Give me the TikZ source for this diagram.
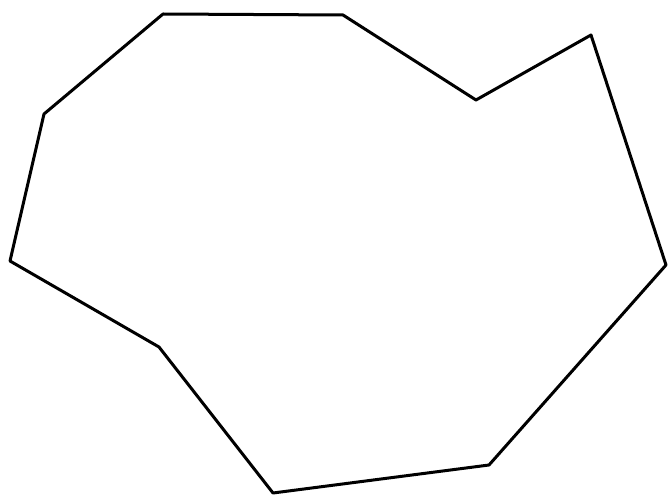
\documentclass[tikz,border=0pt]{standalone}
\begin{document}
\begin{tikzpicture}[x=1pt,y=-1pt,outline/.style={draw=black,line width=3pt,line join=round}]
\useasboundingbox (0,0) rectangle (668,497);
\fill[white] (0,0) rectangle (668,497);
\draw[outline] (163,14) -- (343,15) -- (476,100) -- (591,35) -- (666,265) -- (489,465) -- (273,493) -- (159,347) -- (10,261) -- (44,114) -- cycle;
\end{tikzpicture}
\end{document}
